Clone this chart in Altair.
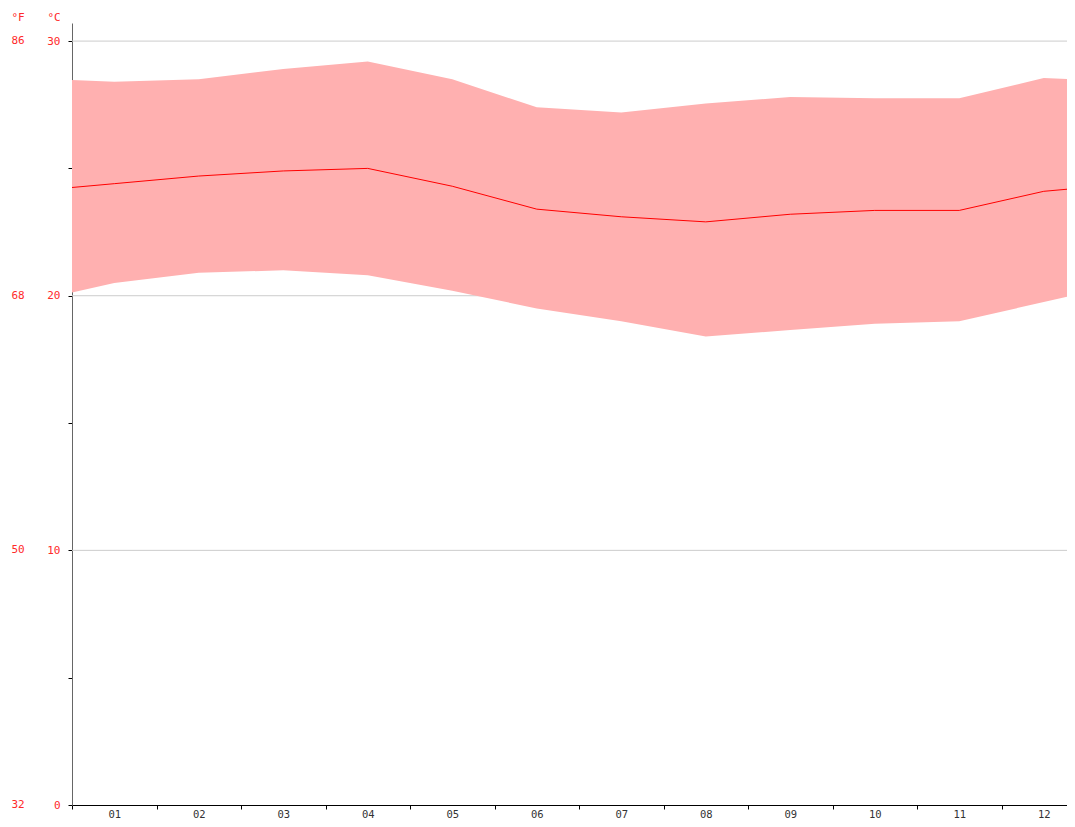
import altair as alt
import pandas as pd

months = ["01", "02", "03", "04", "05", "06", "07", "08", "09", "10", "11", "12"]
mean_c = [24.4, 24.7, 24.9, 25.0, 24.3, 23.4, 23.1, 22.9, 23.2, 23.35, 23.35, 24.1]
high_c = [28.4, 28.5, 28.9, 29.2, 28.5, 27.4, 27.2, 27.55, 27.8, 27.75, 27.75, 28.55]
low_c = [20.5, 20.9, 21.0, 20.8, 20.2, 19.5, 19.0, 18.4, 18.65, 18.9, 19.0, 19.75]

c_ticks = [0, 10, 20, 30]
f_labels = ["32", "50", "68", "86"]
grid_vals = [10, 20, 30]

# wrap-around edges (Dec/Jan join) as drawn in the reference
def edge(v):
    return (v[0] + v[-1]) / 2

pos = [0.5] + list(range(1, 13)) + [12.5]
df = pd.DataFrame({
    "pos": pos,
    "mean": [edge(mean_c)] + mean_c + [edge(mean_c)],
    "high": [edge(high_c)] + high_c + [edge(high_c)],
    "low": [edge(low_c)] + low_c + [edge(low_c)],
})

FONT = "DejaVu Sans Mono"
RED = "#ff2a2a"

x_vals = [v / 2 for v in range(1, 25)]
xscale = alt.Scale(domain=[0.5, 12.275], nice=False, zero=False)
yscale = alt.Scale(domain=[0, 30.71], nice=False, zero=True)

x_axis = alt.Axis(
    values=x_vals,
    labelExpr="datum.value % 1 === 0 ? (datum.value < 10 ? '0' : '') + datum.value : ''",
    tickOpacity={"condition": {"test": "datum.value % 1 === 0", "value": 0}, "value": 1},
    grid=False, title=None, domainColor="black", tickColor="black",
    tickSize=4, labelColor="#333", labelFont=FONT, labelFontSize=10.5,
    labelPadding=0, labelFlush=False, labelOverlap=False,
)
y_axis = alt.Axis(
    values=[0, 5, 10, 15, 20, 25, 30],
    labelExpr="datum.value % 10 === 0 ? datum.value : ''",
    grid=False, title=None, domainColor="#666", tickColor="black",
    tickSize=4, labelColor=RED, labelFont=FONT, labelFontSize=11,
    labelPadding=8, labelFlush=False, labelOverlap=False,
)

grid = alt.Chart(pd.DataFrame({"g": grid_vals})).mark_rule(color="#cccccc", strokeWidth=1).encode(
    y=alt.Y("g:Q", scale=yscale, axis=y_axis)
)

area = alt.Chart(df).mark_area(color="#ffb0b0", opacity=1, clip=True).encode(
    x=alt.X("pos:Q", scale=xscale, axis=x_axis),
    y=alt.Y("high:Q", scale=yscale),
    y2="low:Q",
)

line = alt.Chart(df).mark_line(color="red", strokeWidth=1, clip=True).encode(
    x=alt.X("pos:Q", scale=xscale),
    y=alt.Y("mean:Q", scale=yscale),
)

f_text = alt.Chart(pd.DataFrame({"c": c_ticks, "f": f_labels})).mark_text(
    color=RED, font=FONT, fontSize=11, align="center", baseline="middle"
).encode(
    x=alt.value(-54),
    y=alt.Y("c:Q", scale=yscale),
    text="f:N",
)

headers = alt.Chart(pd.DataFrame({"t": ["°F", "°C"], "px": [-54, -18]})).mark_text(
    color=RED, font=FONT, fontSize=11, align="center", baseline="middle"
).encode(
    x=alt.X("px:Q", scale=None),
    y=alt.value(-5),
    text="t:N",
)

chart = alt.layer(grid, area, line, f_text, headers).properties(
    width=995,
    height=782,
    padding={"left": 64, "top": 15, "right": 0, "bottom": 14},
    autosize="none",
).configure_view(stroke=None)

chart.save("out.html", embed_options={"renderer": "svg", "actions": False})
